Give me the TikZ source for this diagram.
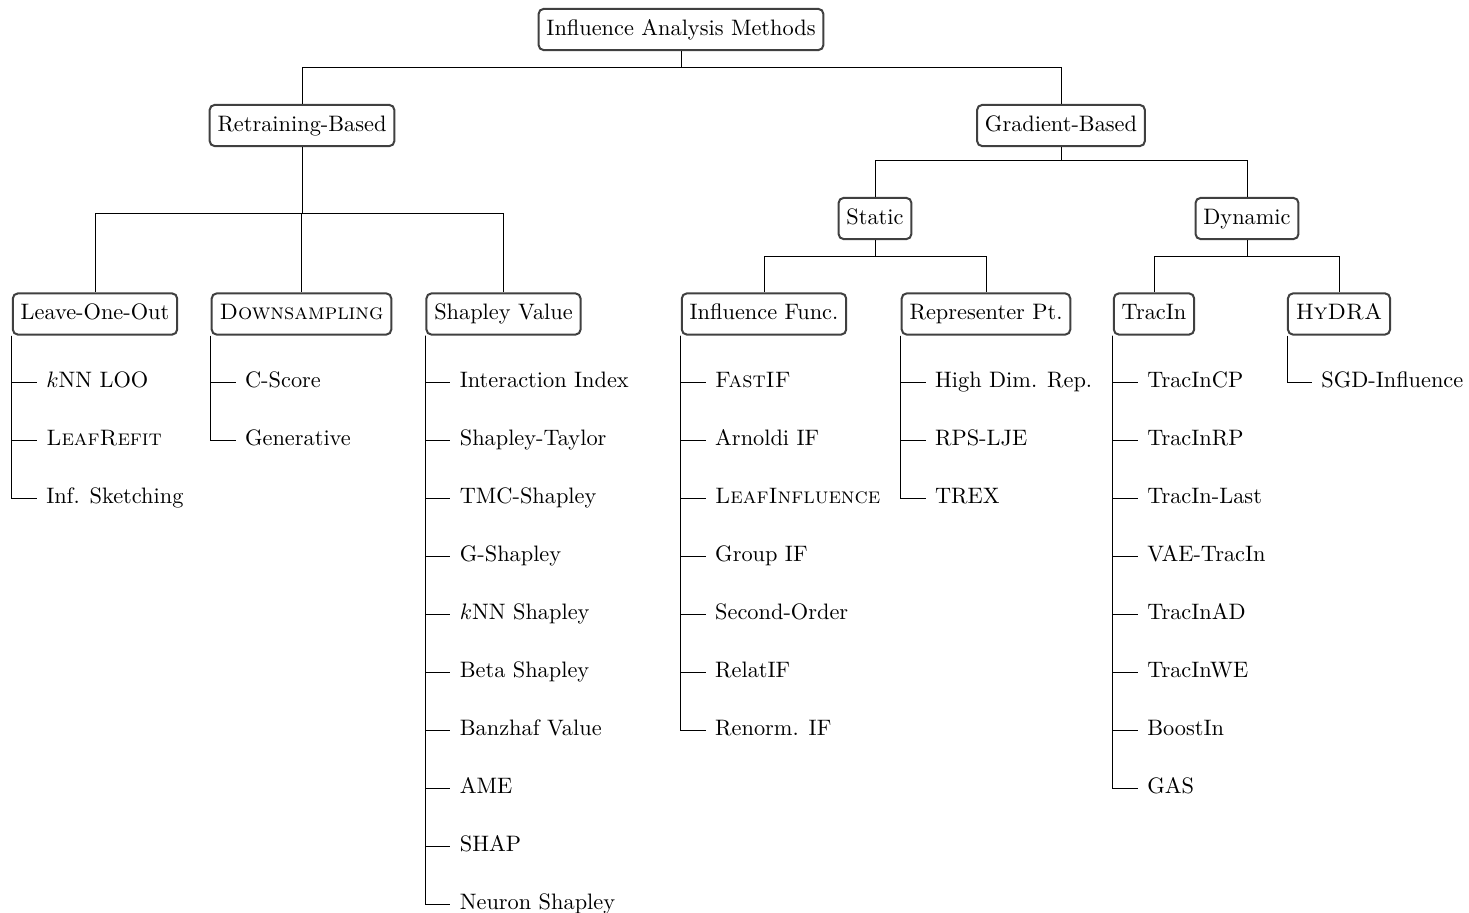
\documentclass[tikz,border=0pt]{standalone}
\begin{document}
\begin{tikzpicture}[x=0.4476pt,y=-0.4476pt]
\tikzset{
  cat/.style={draw=black!75, line width=0.9pt, rounded corners=2.2pt, inner xsep=3.5pt, inner ysep=4.7pt, text height=7pt, text depth=2pt, fill=white},
  leaf/.style={anchor=west, inner xsep=4pt, inner ysep=2pt, text height=7pt, text depth=2pt},
  link/.style={draw=black, line width=0.4pt},
}
\useasboundingbox (0,0) rectangle (1469,913);
% category boxes
\node[cat] (root) at (681,29.5) {Influence Analysis Methods};
\node[cat] (rb) at (302,125.5) {Retraining-Based};
\node[cat] (gb) at (1061,125.5) {Gradient-Based};
\node[cat] (loo) at (95,314) {Leave-One-Out};
\node[cat] (ds) at (301.5,314) {\textsc{Downsampling}};
\node[cat] (sv) at (503.5,314) {Shapley Value};
\node[cat] (st) at (875,218.5) {Static};
\node[cat] (dy) at (1247,218.5) {Dynamic};
\node[cat] (inf) at (764,314) {Influence Func.};
\node[cat] (rep) at (986,314) {Representer Pt.};
\node[cat] (tr) at (1154,314) {TracIn};
\node[cat] (hy) at (1339,314) {\textsc{HyDRA}};
% forked edges
\foreach \p/\c/\f in {root/rb/67, root/gb/67, rb/loo/213, rb/ds/213, rb/sv/213, gb/st/160, gb/dy/160, st/inf/256, st/rep/256, dy/tr/256, dy/hy/256} {
  \draw[link] (\p.south) -- (\p.south |- 0,\f) -| (\c.north);
}
% leaf lists
\foreach \b/\labels in {
  loo/{{$k$NN LOO},{\textsc{LeafRefit}},{Inf. Sketching}},
  ds/{{C-Score},{Generative}},
  sv/{{Interaction Index},{Shapley-Taylor},{TMC-Shapley},{G-Shapley},{$k$NN Shapley},{Beta Shapley},{Banzhaf Value},{AME},{SHAP},{Neuron Shapley}},
  inf/{{\textsc{FastIF}},{Arnoldi IF},{\textsc{LeafInfluence}},{Group IF},{Second-Order},{RelatIF},{Renorm. IF}},
  rep/{{High Dim. Rep.},{RPS-LJE},{TREX}},
  tr/{{TracInCP},{TracInRP},{TracIn-Last},{VAE-TracIn},{TracInAD},{TracInWE},{BoostIn},{GAS}},
  hy/{{SGD-Influence}}} {
  \path (\b.south west) ++(25,0) coordinate (\b-x);
  \foreach \t [count=\i, evaluate=\i as \yy using 324+58*\i] in \labels {
    \node[leaf] (\b-\i) at (\b-x |- 0,\yy) {\t};
    \draw[link] (\b.south west) |- (\b-\i.west);
  }
}
\end{tikzpicture}
\end{document}
